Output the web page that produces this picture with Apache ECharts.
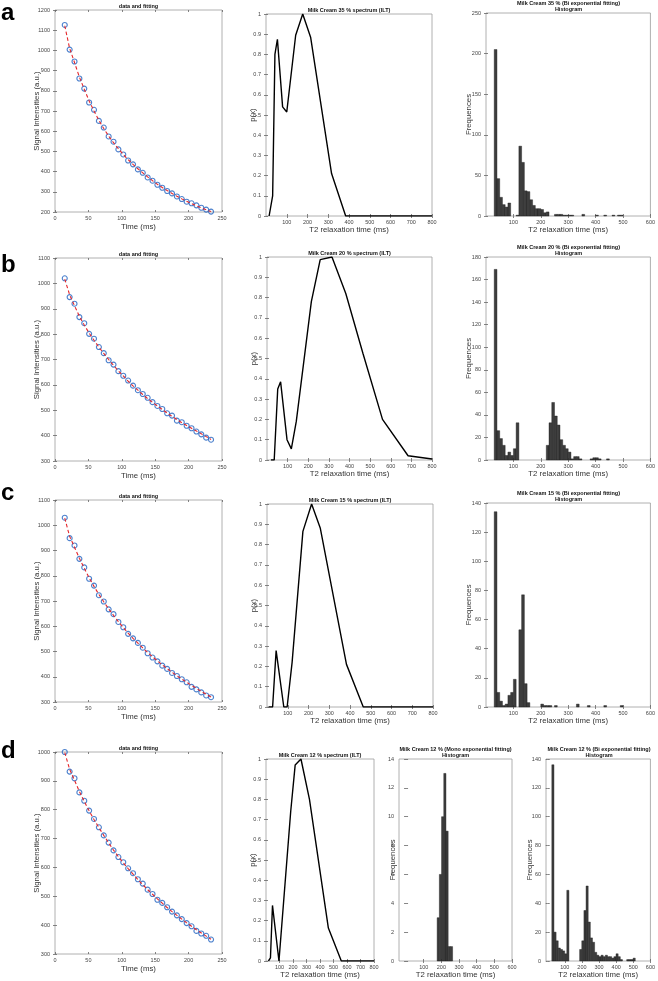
<!DOCTYPE html>
<html><head><meta charset="utf-8">
<script src="https://cdn.jsdelivr.net/npm/echarts@6/dist/echarts.min.js"></script>
<style>html,body{margin:0;padding:0;background:#fff}#c{width:658px;height:981px}</style>
</head><body><div id="c"></div>
<script>
// ---------- DATA ----------
const times = [14.6,21.9,29.2,36.5,43.8,51.1,58.4,65.7,73.0,80.3,87.6,94.9,102.2,109.5,116.8,124.1,131.4,138.7,146.0,153.3,160.6,167.9,175.2,182.5,189.8,197.1,204.4,211.7,219.0,226.3,233.6];

const sigA = [1126,1004,945,861,811,742,706,651,618,574,548,510,485,455,436,411,394,371,355,335,320,304,292,277,264,251,243,233,221,212,202];
const fitA = [1122,1010,940,868,808,750,700,654,613,576,543,513,485,459,436,414,394,374,355,337,321,306,292,278,265,253,242,231,221,211,202];
const sigB = [1020,946,920,867,843,801,782,749,725,697,680,654,636,617,597,579,564,549,532,517,505,488,479,459,453,439,429,416,405,392,384];
const fitB = [1017,955,912,870,836,804,776,749,724,700,677,655,635,615,596,579,562,546,531,517,503,489,476,463,451,440,429,418,407,396,385];
const sigC = [1030,949,920,867,833,788,761,723,698,667,648,617,596,570,552,534,515,493,476,461,444,431,415,403,390,378,360,350,338,326,319];
const fitC = [1028,956,913,869,830,792,758,726,697,669,643,618,595,573,552,533,514,496,479,463,447,432,418,404,391,378,366,354,342,331,320];
const sigD = [1000,932,909,860,831,797,768,739,711,686,659,636,618,597,580,559,544,523,508,488,477,462,447,434,421,407,396,380,371,363,350];
const fitD = [998,940,902,863,829,796,766,738,711,685,660,637,616,596,577,558,540,523,507,491,476,461,447,434,421,408,396,384,373,362,351];

const iltA_T2 = [15,24,32,43,55,80,100,143,177,215,316,384,800];
const iltA_p  = [0,0,0.1,0.8,0.875,0.54,0.515,0.895,1.0,0.885,0.21,0,0];
const iltB_T2 = [19,35,52,66,97,118,142,215,258,315,382,465,560,684,800];
const iltB_p  = [0,0,0.35,0.385,0.10,0.055,0.19,0.78,0.987,1.0,0.82,0.526,0.2,0.021,0.005];
const iltC_T2 = [8,27,44,53,81,97,121,173,215,257,383,464,800];
const iltC_p  = [0,0,0.278,0.285,0,0,0.22,0.865,1.0,0.88,0.21,0,0];
const iltD_T2 = [18,33,48,96,183,216,259,322,462,558,800];
const iltD_p  = [0,0.015,0.275,0,0.74,0.97,1.0,0.8,0.163,0,0];

// histograms: first bin edge, bin width, counts
const histA_start = 30, histA_width = 10;
const histA = [205,46,23,14,11,16,0,0,1,86,66,31,30,20,13,9,9,8,4,5,0,0,2,2,2,1,1,1,1,0,0,0,2,0,0,0,0,1,0,0,1,0,0,1,0,1,1];
const histB_start = 30, histB_width = 10;
const histB = [169,26,19,13,4,7,4,10,33,0,0,0,0,0,0,0,0,0,0,13,33,51,39,31,18,13,10,7,1,3,3,1,0,0,0,1,2,2,1,0,0,1];
const histC_start = 30, histC_width = 10;
const histC = [134,10,4,1,2,8,10,19,0,53,77,16,3,0,0,0,0,2,1,1,1,0,1,0,0,0,0,0,0,0,2,0,0,0,1,0,0,0,0,0,1,0,0,0,0,0,1];
const histDm_start = 176, histDm_width = 12.5;
const histDm = [3,6,10,13,9,1,1];
const histDb_start = 24, histDb_width = 12.5;
const histDb = [136,20,14,9,8,7,5,49,0,0,0,0,0,8,14,35,52,27,16,13,6,4,3,4,3,4,3,3,2,3,5,3,1,0,0,1,1,1,2];

// tick labels
const timeTicks = [0,50,100,150,200,250];
const sigTicksA = [200,300,400,500,600,700,800,900,1000,1100,1200];
const sigTicksB = [300,400,500,600,700,800,900,1000,1100];
const sigTicksD = [300,400,500,600,700,800,900,1000];
const iltXTicks = [100,200,300,400,500,600,700,800];
const iltYTicks = [0,0.1,0.2,0.3,0.4,0.5,0.6,0.7,0.8,0.9,1];
const histXTicks = [100,200,300,400,500,600];
const histYTicksA = [0,50,100,150,200,250];
const histYTicksB = [0,20,40,60,80,100,120,140,160,180];
const histYTicksC = [0,20,40,60,80,100,120,140];
const histYTicksDm = [0,2,4,6,8,10,12,14];

// ---------- BUILD ----------
const FONT = '"Liberation Sans", Arial, Helvetica, sans-serif';
const grids = [], xAxes = [], yAxes = [], series = [], graphic = [];

function tick(vals){ return {show:true, inside:true, length:2, customValues:vals, lineStyle:{color:'#666', width:0.8}}; }
const plain = v => String(v);

function panel(o){
  const gi = grids.length;
  grids.push({left:o.l, top:o.t, width:o.w, height:o.h, show:true, borderColor:'#9c9c9c', borderWidth:0.8, backgroundColor:'#fff'});
  const xi = xAxes.length;
  xAxes.push({type:'value', gridIndex:gi, position:'bottom', min:o.xMin, max:o.xMax,
    axisLine:{show:false}, splitLine:{show:false}, axisTick:tick(o.xTicks),
    axisLabel:{customValues:o.xTicks, fontSize:5.5, color:'#444', margin:3, fontFamily:FONT, formatter:plain},
    name:o.xName, nameLocation:'middle', nameGap:o.xGap, nameMoveOverlap:false,
    nameTextStyle:{fontSize:7.8, color:'#333', fontFamily:FONT}});
  xAxes.push({type:'value', gridIndex:gi, position:'top', min:o.xMin, max:o.xMax,
    axisLine:{show:false}, splitLine:{show:false}, axisTick:tick(o.xTicks), axisLabel:{show:false}});
  const yi = yAxes.length;
  yAxes.push({type:'value', gridIndex:gi, position:'left', min:o.yMin, max:o.yMax,
    axisLine:{show:false}, splitLine:{show:false}, axisTick:tick(o.yTicks),
    axisLabel:{customValues:o.yTicks, fontSize:5.5, color:'#444', margin:5, fontFamily:FONT, formatter:plain},
    name:o.yName, nameLocation:'middle', nameGap:o.yGap, nameMoveOverlap:false,
    nameTextStyle:{fontSize:7.8, color:'#333', fontFamily:FONT}});
  yAxes.push({type:'value', gridIndex:gi, position:'right', min:o.yMin, max:o.yMax,
    axisLine:{show:false}, splitLine:{show:false}, axisTick:tick(o.yTicks), axisLabel:{show:false}});
  o.title.forEach((line, k) => graphic.push({type:'text', silent:true,
    x:o.l + o.w/2, y:o.t - 3.3 - (o.title.length - 1 - k) * 6.2,
    style:{text:line, font:'bold 5.5px ' + FONT, fill:'#111', align:'center', verticalAlign:'middle'}}));
  return {xi, yi};
}

function decay(o, sig, fit){
  const ax = panel(Object.assign({xMin:0, xMax:250, xTicks:timeTicks, title:['data and fitting'],
    xName:'Time (ms)', yName:'Signal Intensities (a.u.)', xGap:10.5, yGap:14}, o));
  series.push({type:'scatter', xAxisIndex:ax.xi, yAxisIndex:ax.yi, symbol:'circle', symbolSize:5, z:2,
    data: times.map((t,i)=>[t, sig[i]]),
    itemStyle:{color:'rgba(255,255,255,0)', borderColor:'#1f62c0', borderWidth:1.1}});
  series.push({type:'line', xAxisIndex:ax.xi, yAxisIndex:ax.yi, showSymbol:false, z:3,
    data: times.map((t,i)=>[t, fit[i]]),
    lineStyle:{color:'#e4262b', width:1.1, type:[3.5,2.5]}});
}

function ilt(o, T2, p){
  const ax = panel(Object.assign({xMin:0, xMax:800, xTicks:iltXTicks, yMin:0, yMax:1, yTicks:iltYTicks,
    xName:'T2 relaxation time (ms)', yName:'p(x)', xGap:9.5, yGap:9}, o));
  series.push({type:'line', xAxisIndex:ax.xi, yAxisIndex:ax.yi, showSymbol:false, z:3,
    data: T2.map((t,i)=>[t, p[i]]), lineStyle:{color:'#000', width:1.4}});
}

function hist(o, start, width, counts){
  const ax = panel(Object.assign({xMin:0, xMax:600, xTicks:histXTicks, yMin:0,
    xName:'T2 relaxation time (ms)', yName:'Frequences', xGap:9.5, yGap:13}, o));
  const bins = [];
  counts.forEach((c,k)=>{ if (c > 0) bins.push([start + k*width, start + (k+1)*width, c]); });
  series.push({type:'custom', xAxisIndex:ax.xi, yAxisIndex:ax.yi, z:2, silent:true,
    data: bins, encode:{x:[0,1], y:2},
    renderItem:(params, api)=>{
      const p0 = api.coord([api.value(0), 0]);
      const p1 = api.coord([api.value(1), api.value(2)]);
      return {type:'rect', shape:{x:p0[0], y:p1[1], width:p1[0]-p0[0], height:p0[1]-p1[1]},
        style:{fill:'#3d3d3d', stroke:'#161616', lineWidth:0.4}};
    }});
}

// Row a
decay({l:55, t:10, w:167, h:202, yMin:200, yMax:1200, yTicks:sigTicksA}, sigA, fitA);
ilt({l:266, t:14, w:166, h:202, title:['Milk Cream 35 % spectrum (ILT)']}, iltA_T2, iltA_p);
hist({l:486, t:13, w:165, h:203, yMax:250, yTicks:histYTicksA, title:['Milk Cream 35 % (Bi exponential fitting)','Histogram']}, histA_start, histA_width, histA);
// Row b
decay({l:55, t:258, w:167, h:203, yMin:300, yMax:1100, yTicks:sigTicksB}, sigB, fitB);
ilt({l:267, t:257, w:165, h:203, title:['Milk Cream 20 % spectrum (ILT)']}, iltB_T2, iltB_p);
hist({l:486, t:257, w:165, h:203, yMax:180, yTicks:histYTicksB, title:['Milk Cream 20 % (Bi exponential fitting)','Histogram']}, histB_start, histB_width, histB);
// Row c
decay({l:55, t:500, w:167, h:202, yMin:300, yMax:1100, yTicks:sigTicksB}, sigC, fitC);
ilt({l:267, t:504, w:166, h:203, title:['Milk Cream 15 % spectrum (ILT)']}, iltC_T2, iltC_p);
hist({l:486, t:503, w:165, h:204, yMax:140, yTicks:histYTicksC, title:['Milk Cream 15 % (Bi exponential fitting)','Histogram']}, histC_start, histC_width, histC);
// Row d
decay({l:55, t:752, w:167, h:202, yMin:300, yMax:1000, yTicks:sigTicksD}, sigD, fitD);
ilt({l:266, t:759, w:108, h:202, title:['Milk Cream 12 % spectrum (ILT)']}, iltD_T2, iltD_p);
hist({l:399, t:759, w:113, h:202, xMin:-40, yMax:14, yTicks:histYTicksDm, yGap:2, title:['Milk Cream 12 % (Mono exponential fitting)','Histogram']}, histDm_start, histDm_width, histDm);
hist({l:546, t:759, w:106, h:202, xMin:-10, yMax:140, yTicks:histYTicksC, yGap:12, title:['Milk Cream 12 % (Bi exponential fitting)','Histogram']}, histDb_start, histDb_width, histDb);

// panel letters
[['a',13.5],['b',265.5],['c',493.5],['d',751.5]].forEach(([t,y])=>graphic.push({type:'text', silent:true, x:1, y:y,
  style:{text:t, font:'bold 24px ' + FONT, fill:'#000', align:'left', verticalAlign:'middle'}}));

const chart = echarts.init(document.getElementById('c'), null, {renderer:'canvas'});
chart.setOption({animation:false, backgroundColor:'#fff', grid:grids, xAxis:xAxes, yAxis:yAxes, series:series, graphic:graphic});
</script></body></html>
